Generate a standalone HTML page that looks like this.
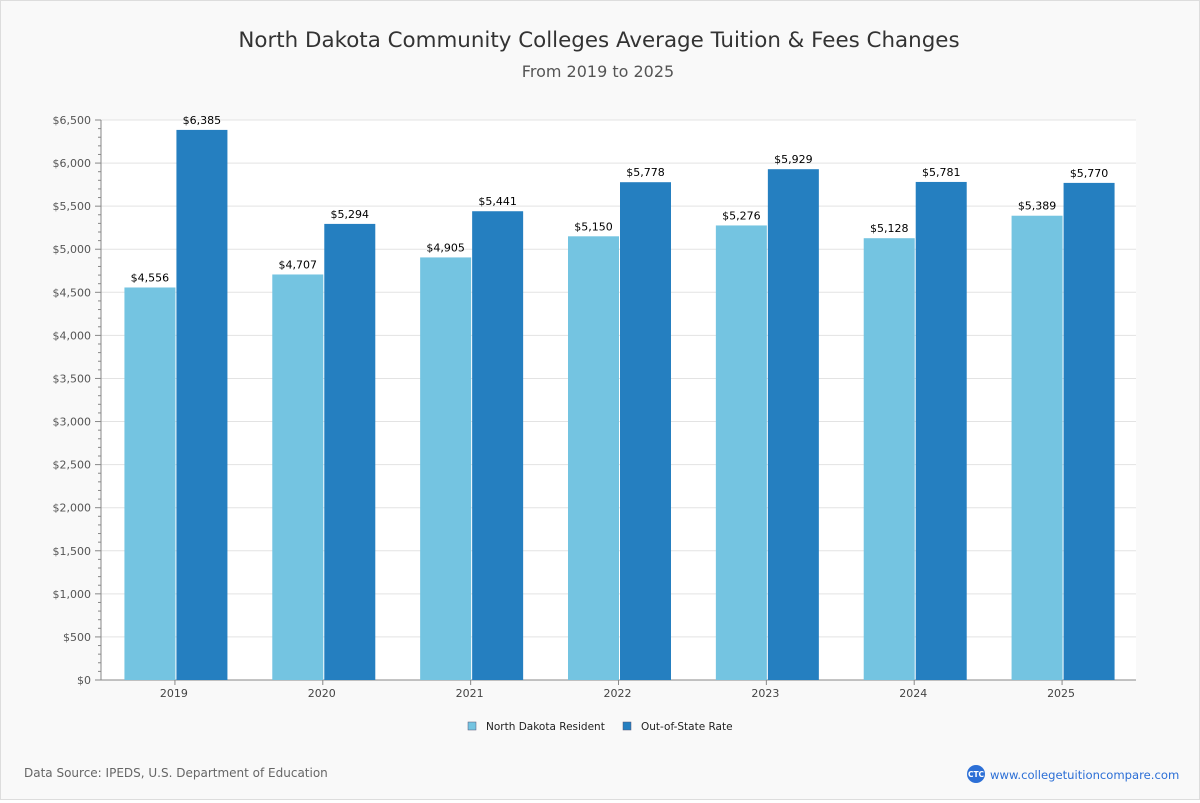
<!DOCTYPE html>
<html><head><meta charset="utf-8"><style>
body{margin:0;background:#fff}
#wrap{width:1198px;height:798px;border:1px solid #ddd;background:#f9f9f9;position:relative;font-family:"DejaVu Sans","Liberation Sans",sans-serif}
</style></head><body>
<div id="wrap">
<svg id="chart" width="1198" height="798"></svg>
</div>
<script>
const categories=["2019","2020","2021","2022","2023","2024","2025"];
const residentValues=[4556,4707,4905,5150,5276,5128,5389];
const outStateValues=[6385,5294,5441,5778,5929,5781,5770];
const yTicks=[0,500,1000,1500,2000,2500,3000,3500,4000,4500,5000,5500,6000,6500];
const NS="http://www.w3.org/2000/svg";
const svg=document.getElementById('chart');
function mk(t,a,txt){const e=document.createElementNS(NS,t);for(const k in a)e.setAttribute(k,a[k]);if(txt!=null)e.textContent=txt;svg.appendChild(e);return e;}
const X0=100,X1=1135,Y0=679,Y1=119,YMAX=6500;
const y=v=>Y0-(v/YMAX)*(Y0-Y1);
const gw=(X1-X0)/categories.length;
const fmt=v=>'$'+v.toLocaleString('en-US');
let e;
e=mk('text',{x:598,y:46,'text-anchor':'middle','font-size':21.4,fill:'#333'},'North Dakota Community Colleges Average Tuition & Fees Changes');


e=mk('text',{x:597,y:76,'text-anchor':'middle','font-size':16,fill:'#555'},'From 2019 to 2025');


e=mk('rect',{x:X0,y:Y1,width:X1-X0,height:Y0-Y1,fill:'#fff'});


yTicks.forEach(t=>{
 e=mk('line',{x1:X0,x2:X1,y1:y(t),y2:y(t),stroke:'#e3e3e3'});
 
 
 e=mk('text',{x:90,y:y(t)+4,'text-anchor':'end','font-size':11,fill:'#555'},fmt(t));
 
 
});
for(let v=0;v<=YMAX;v+=100){
 const big=v%500===0;
 e=mk('line',{x1:big?X0-6:X0-3,x2:X0,y1:y(v),y2:y(v),stroke:'#888'});
 
 
}
e=mk('line',{x1:X0,x2:X0,y1:Y1,y2:Y0,stroke:'#888'});


e=mk('line',{x1:X0,x2:X1,y1:Y0,y2:Y0,stroke:'#888'});


const bw=51;
categories.forEach((c,i)=>{
 const cx=X0+gw*(i+0.5)+1;
 [[residentValues[i],'#74c4e1',cx-bw-0.5,'bar-resident-'+c],[outStateValues[i],'#257fc0',cx+0.5,'bar-out-of-state-'+c]].forEach(([v,col,bx,nm])=>{
  e=mk('rect',{x:bx,y:y(v),width:bw,height:Y0-y(v),fill:col});
  
  
  e=mk('text',{x:bx+bw/2,y:y(v)-6,'text-anchor':'middle','font-size':11,fill:'#000'},fmt(v));
  
  
 });
 e=mk('line',{x1:cx-1,x2:cx-1,y1:Y0,y2:Y0+5,stroke:'#888'});
 
 
 e=mk('text',{x:cx-2,y:Y0+17,'text-anchor':'middle','font-size':11,fill:'#444'},c);
 
 
});
[[467,'#74c4e1','North Dakota Resident','legend-resident'],[622,'#257fc0','Out-of-State Rate','legend-out-of-state']].forEach(([lx,col,t,nm])=>{
 e=mk('rect',{x:lx,y:721,width:8,height:8,fill:col,stroke:'#557',"stroke-width":0.5});
 
 
 e=mk('text',{x:lx+18,y:729,'font-size':10.5,fill:'#222'},t);
 
 
});
e=mk('text',{x:23,y:776,'font-size':12,fill:'#666'},'Data Source: IPEDS, U.S. Department of Education');


e=mk('circle',{cx:975,cy:773,r:9,fill:'#2c6fd6'});


e=mk('text',{x:975,y:776,'text-anchor':'middle','font-size':7.5,fill:'#fff','font-weight':'bold'},'CTC');


e=mk('text',{x:989,y:778,'font-size':11.6,fill:'#2c6fd6'},'www.collegetuitioncompare.com');


</script>
</body></html>
